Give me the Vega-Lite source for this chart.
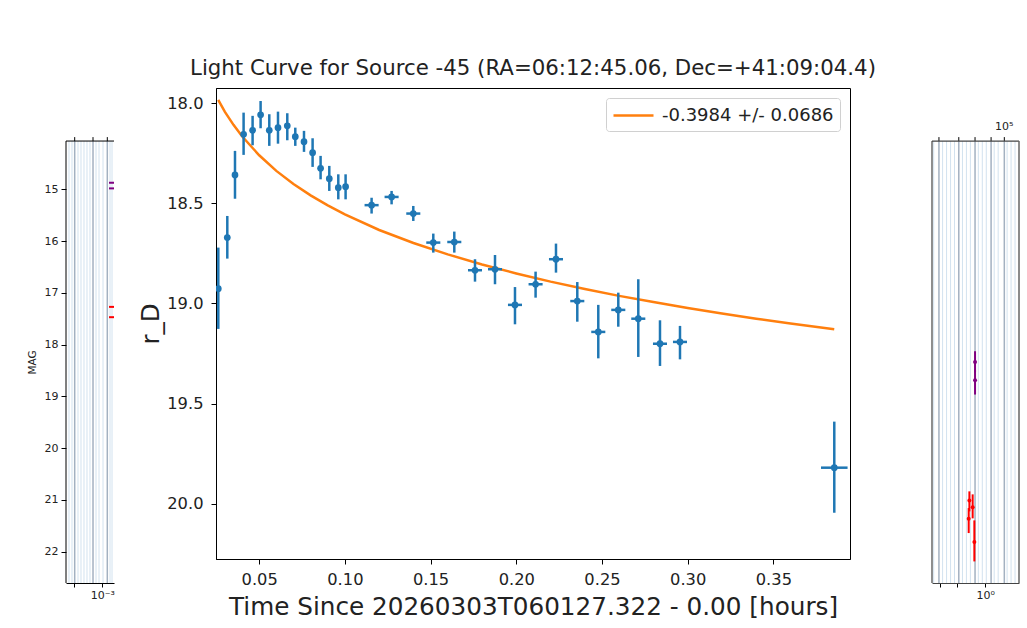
{
  "$schema": "https://vega.github.io/schema/vega-lite/v6.json",
  "background": "white",
  "padding": {"left": 27, "top": 57, "right": 0, "bottom": 0},
  "config": {
    "font": "DejaVu Sans",
    "view": {"stroke": null},
    "axis": {"grid": false, "domainColor": "#000", "tickColor": "#000", "labelColor": "#222", "titleColor": "#222", "titleFontWeight": "normal", "labelFont": "DejaVu Sans", "titleFont": "DejaVu Sans", "labelOverlap": false, "labelFlush": false},
    "title": {"font": "DejaVu Sans", "fontWeight": "normal", "color": "#222"},
    "legend": {"labelFont": "DejaVu Sans"}
  },
  "resolve": {"scale": {"stroke": "independent"}, "legend": {"stroke": "independent"}},
  "datasets": {
    "obs": [
      {"t": 0.02614, "tlo": 0.02464, "thi": 0.02764, "mag": 18.926, "mlo": 18.721, "mhi": 19.127},
      {"t": 0.03139, "tlo": 0.02989, "thi": 0.03289, "mag": 18.671, "mlo": 18.563, "mhi": 18.776},
      {"t": 0.03588, "tlo": 0.03438, "thi": 0.03738, "mag": 18.358, "mlo": 18.238, "mhi": 18.477},
      {"t": 0.04090, "tlo": 0.03940, "thi": 0.04240, "mag": 18.155, "mlo": 18.047, "mhi": 18.258},
      {"t": 0.04615, "tlo": 0.04465, "thi": 0.04765, "mag": 18.135, "mlo": 18.063, "mhi": 18.210},
      {"t": 0.05082, "tlo": 0.04932, "thi": 0.05232, "mag": 18.058, "mlo": 17.989, "mhi": 18.125},
      {"t": 0.05589, "tlo": 0.05439, "thi": 0.05739, "mag": 18.135, "mlo": 18.055, "mhi": 18.213},
      {"t": 0.06097, "tlo": 0.05947, "thi": 0.06247, "mag": 18.122, "mlo": 18.042, "mhi": 18.202},
      {"t": 0.06639, "tlo": 0.06489, "thi": 0.06789, "mag": 18.113, "mlo": 18.050, "mhi": 18.185},
      {"t": 0.07106, "tlo": 0.06956, "thi": 0.07256, "mag": 18.167, "mlo": 18.122, "mhi": 18.213},
      {"t": 0.07614, "tlo": 0.07464, "thi": 0.07764, "mag": 18.192, "mlo": 18.138, "mhi": 18.243},
      {"t": 0.08116, "tlo": 0.07966, "thi": 0.08266, "mag": 18.247, "mlo": 18.175, "mhi": 18.318},
      {"t": 0.08582, "tlo": 0.08432, "thi": 0.08732, "mag": 18.325, "mlo": 18.263, "mhi": 18.380},
      {"t": 0.09090, "tlo": 0.08940, "thi": 0.09240, "mag": 18.377, "mlo": 18.313, "mhi": 18.438},
      {"t": 0.09615, "tlo": 0.09465, "thi": 0.09765, "mag": 18.422, "mlo": 18.355, "mhi": 18.480},
      {"t": 0.10041, "tlo": 0.09891, "thi": 0.10191, "mag": 18.417, "mlo": 18.355, "mhi": 18.480},
      {"t": 0.11558, "tlo": 0.11148, "thi": 0.11968, "mag": 18.509, "mlo": 18.472, "mhi": 18.551},
      {"t": 0.12725, "tlo": 0.12315, "thi": 0.13135, "mag": 18.468, "mlo": 18.438, "mhi": 18.505},
      {"t": 0.13991, "tlo": 0.13581, "thi": 0.14401, "mag": 18.551, "mlo": 18.513, "mhi": 18.588},
      {"t": 0.15158, "tlo": 0.14748, "thi": 0.15568, "mag": 18.696, "mlo": 18.651, "mhi": 18.746},
      {"t": 0.16383, "tlo": 0.15973, "thi": 0.16793, "mag": 18.693, "mlo": 18.641, "mhi": 18.746},
      {"t": 0.17591, "tlo": 0.17181, "thi": 0.18001, "mag": 18.834, "mlo": 18.779, "mhi": 18.891},
      {"t": 0.18758, "tlo": 0.18348, "thi": 0.19168, "mag": 18.829, "mlo": 18.758, "mhi": 18.904},
      {"t": 0.19924, "tlo": 0.19514, "thi": 0.20334, "mag": 19.007, "mlo": 18.918, "mhi": 19.104},
      {"t": 0.21126, "tlo": 0.20716, "thi": 0.21536, "mag": 18.904, "mlo": 18.841, "mhi": 18.971},
      {"t": 0.22316, "tlo": 0.21906, "thi": 0.22726, "mag": 18.779, "mlo": 18.701, "mhi": 18.846},
      {"t": 0.23559, "tlo": 0.23149, "thi": 0.23969, "mag": 18.988, "mlo": 18.893, "mhi": 19.091},
      {"t": 0.24784, "tlo": 0.24374, "thi": 0.25194, "mag": 19.142, "mlo": 19.007, "mhi": 19.274},
      {"t": 0.25951, "tlo": 0.25541, "thi": 0.26361, "mag": 19.032, "mlo": 18.946, "mhi": 19.116},
      {"t": 0.27118, "tlo": 0.26708, "thi": 0.27528, "mag": 19.076, "mlo": 18.879, "mhi": 19.267},
      {"t": 0.28384, "tlo": 0.27974, "thi": 0.28794, "mag": 19.201, "mlo": 19.084, "mhi": 19.312},
      {"t": 0.29551, "tlo": 0.29141, "thi": 0.29961, "mag": 19.192, "mlo": 19.112, "mhi": 19.279},
      {"t": 0.38553, "tlo": 0.37778, "thi": 0.39328, "mag": 19.820, "mlo": 19.590, "mhi": 20.045}
    ],
    "fit": [
      {"t": 0.0261, "mag": 17.983},
      {"t": 0.03, "mag": 18.043},
      {"t": 0.035, "mag": 18.108},
      {"t": 0.04, "mag": 18.165},
      {"t": 0.05, "mag": 18.260},
      {"t": 0.06, "mag": 18.338},
      {"t": 0.07, "mag": 18.403},
      {"t": 0.08, "mag": 18.460},
      {"t": 0.09, "mag": 18.510},
      {"t": 0.10, "mag": 18.555},
      {"t": 0.12, "mag": 18.633},
      {"t": 0.14, "mag": 18.698},
      {"t": 0.16, "mag": 18.755},
      {"t": 0.18, "mag": 18.805},
      {"t": 0.20, "mag": 18.850},
      {"t": 0.22, "mag": 18.891},
      {"t": 0.24, "mag": 18.928},
      {"t": 0.26, "mag": 18.962},
      {"t": 0.28, "mag": 18.993},
      {"t": 0.30, "mag": 19.023},
      {"t": 0.32, "mag": 19.050},
      {"t": 0.34, "mag": 19.076},
      {"t": 0.36, "mag": 19.100},
      {"t": 0.3855, "mag": 19.129}
    ],
    "lgridMinor": [
      {"lx": -4.233}, {"lx": -4.122}, {"lx": -3.9}, {"lx": -3.789}, {"lx": -3.678}, {"lx": -3.567}, {"lx": -3.456}, {"lx": -3.233}, {"lx": -3.122}, {"lx": -2.974}, {"lx": -2.715}, {"lx": -2.641}
    ],
    "lgridMajor": [
      {"lx": -4.022}, {"lx": -3.344}, {"lx": -2.815}
    ],
    "lmarks": [
      {"lx": -2.752, "lx2": -2.5, "mag": 14.872, "band": "g"},
      {"lx": -2.752, "lx2": -2.5, "mag": 14.981, "band": "g"},
      {"lx": -2.752, "lx2": -2.5, "mag": 17.271, "band": "r"},
      {"lx": -2.752, "lx2": -2.5, "mag": 17.470, "band": "r"}
    ],
    "rgridMinor": [
      {"lx": -1.926}, {"lx": -1.593}, {"lx": -1.445}, {"lx": -1.296}, {"lx": -1.148}, {"lx": -0.852}, {"lx": -0.704}, {"lx": -0.556}, {"lx": -0.259}, {"lx": -0.111}, {"lx": 0.037}, {"lx": 0.333}, {"lx": 0.481}, {"lx": 0.815}, {"lx": 0.963}, {"lx": 1.111}
    ],
    "rgridMajor": [
      {"lx": -1.730}, {"lx": -0.989}, {"lx": -0.382}, {"lx": 0.217}, {"lx": 0.711}
    ],
    "rpts": [
      {"lx": -0.382, "mag": 18.335, "mlo": 18.128, "mhi": 18.54, "band": "g"},
      {"lx": -0.382, "mag": 18.689, "mlo": 18.48, "mhi": 18.965, "band": "g"},
      {"lx": -0.593, "mag": 21.015, "mlo": 20.836, "mhi": 21.223, "band": "r"},
      {"lx": -0.471, "mag": 21.145, "mlo": 20.894, "mhi": 21.358, "band": "r"},
      {"lx": -0.619, "mag": 21.364, "mlo": 21.159, "mhi": 21.642, "band": "r"},
      {"lx": -0.408, "mag": 21.816, "mlo": 21.397, "mhi": 22.190, "band": "r"}
    ],
    "rtop": [
      {"lx": 0.711, "label": "10⁵"}
    ]
  },
  "spacing": 22,
  "hconcat": [
    {
      "width": 48,
      "height": 495,
      "layer": [
        {
          "data": {"name": "lgridMinor"},
          "mark": {"type": "rule", "color": "#d2e2ef", "strokeWidth": 1},
          "encoding": {
            "x": {"field": "lx", "type": "quantitative", "scale": {"domain": [-4.344, -2.567], "nice": false, "zero": false},
              "axis": {"orient": "bottom", "values": [-4.048, -3.519, -3], "labelExpr": "datum.value == -3 ? '10⁻³' : ''", "title": null, "labelFontSize": 11, "tickSize": 4, "labelPadding": 2}},
            "y": {"datum": 14.066, "type": "quantitative", "scale": {"domain": [13.041, 22.607], "reverse": true, "nice": false, "zero": false},
              "axis": {"title": "MAG", "values": [15, 16, 17, 18, 19, 20, 21, 22], "domain": false, "labelFontSize": 11, "titleFontSize": 10.5, "tickSize": 5, "labelPadding": 3, "titlePadding": 7, "titleY": 274}},
            "y2": {"datum": 22.607}
          }
        },
        {
          "data": {"name": "lgridMajor"},
          "mark": {"type": "rule", "color": "#a3b1c1", "strokeWidth": 1.5},
          "encoding": {
            "x": {"field": "lx", "type": "quantitative"},
            "y": {"datum": 14.066, "type": "quantitative"},
            "y2": {"datum": 22.607}
          }
        },
        {
          "data": {"name": "lgridMajor"},
          "mark": {"type": "rule", "color": "#000", "strokeWidth": 1},
          "encoding": {
            "x": {"field": "lx", "type": "quantitative"},
            "y": {"datum": 14.066, "type": "quantitative"},
            "y2": {"datum": 13.99}
          }
        },
        {
          "data": {"name": "lmarks"},
          "mark": {"type": "rule", "strokeWidth": 2, "clip": true},
          "encoding": {
            "x": {"field": "lx", "type": "quantitative"},
            "x2": {"field": "lx2"},
            "y": {"field": "mag", "type": "quantitative"},
            "color": {"field": "band", "type": "nominal", "scale": {"domain": ["g", "r"], "range": ["#800080", "#ff0000"]}, "legend": null}
          }
        },
        {
          "data": {"name": "rtop"},
          "mark": {"type": "rule", "color": "#000", "strokeWidth": 1},
          "encoding": {
            "y": {"datum": 14.066, "type": "quantitative"}
          }
        },
        {
          "data": {"name": "rtop"},
          "mark": {"type": "rule", "color": "#000", "strokeWidth": 1},
          "encoding": {
            "x": {"datum": -4.344, "type": "quantitative"},
            "y": {"datum": 14.066, "type": "quantitative"},
            "y2": {"datum": 22.607}
          }
        }
      ]
    },
    {
      "width": 634,
      "height": 471,
      "title": {"text": "Light Curve for Source -45 (RA=06:12:45.06, Dec=+41:09:04.4)", "fontSize": 21.3, "offset": 8.5, "anchor": "middle"},
      "view": {"stroke": "#000", "strokeWidth": 1},
      "layer": [
        {
          "data": {"name": "fit"},
          "mark": {"type": "line", "strokeWidth": 2.5, "clip": true},
          "encoding": {
            "x": {"field": "t", "type": "quantitative", "scale": {"domain": [0.0248, 0.3947], "nice": false, "zero": false},
              "axis": {"title": "Time Since 20260303T060127.322 - 0.00 [hours]", "values": [0.05, 0.1, 0.15, 0.2, 0.25, 0.3, 0.35], "format": ".2f", "labelFontSize": 16.3, "titleFontSize": 24.7, "tickSize": 5, "labelPadding": 7, "titlePadding": 7}},
            "y": {"field": "mag", "type": "quantitative", "scale": {"domain": [17.924, 20.276], "reverse": true, "nice": false, "zero": false},
              "axis": {"title": "r_D", "values": [18, 18.5, 19, 19.5, 20], "format": ".1f", "labelFontSize": 16.3, "titleFontSize": 24.5, "tickSize": 5, "labelPadding": 8, "titlePadding": 3.5}},
            "stroke": {"datum": "-0.3984 +/- 0.0686", "type": "nominal", "scale": {"range": ["#ff7f0e"]},
              "legend": {"title": null, "orient": "top-right", "offset": 10, "symbolType": "M-1,0H3", "symbolSize": 400, "symbolStrokeWidth": 2.5, "labelFontSize": 18, "labelLimit": 400, "labelColor": "#222", "padding": 6, "strokeColor": "#d0d0d0", "fillColor": "white", "cornerRadius": 3, "labelOffset": 27}}
          }
        },
        {
          "data": {"name": "obs"},
          "mark": {"type": "rule", "strokeWidth": 2.5, "color": "#1f77b4", "clip": true},
          "encoding": {
            "x": {"field": "t", "type": "quantitative"},
            "y": {"field": "mlo", "type": "quantitative"},
            "y2": {"field": "mhi"}
          }
        },
        {
          "data": {"name": "obs"},
          "mark": {"type": "rule", "strokeWidth": 2.5, "color": "#1f77b4", "clip": true},
          "encoding": {
            "x": {"field": "tlo", "type": "quantitative"},
            "x2": {"field": "thi"},
            "y": {"field": "mag", "type": "quantitative"}
          }
        },
        {
          "data": {"name": "obs"},
          "mark": {"type": "circle", "size": 45, "opacity": 1, "color": "#1f77b4", "clip": true},
          "encoding": {
            "x": {"field": "t", "type": "quantitative"},
            "y": {"field": "mag", "type": "quantitative"}
          }
        }
      ]
    },
    {
      "width": 87,
      "height": 495,
      "layer": [
        {
          "data": {"name": "rgridMinor"},
          "mark": {"type": "rule", "color": "#d2e2ef", "strokeWidth": 1},
          "encoding": {
            "x": {"field": "lx", "type": "quantitative", "scale": {"domain": [-1.989, 1.259], "nice": false, "zero": false},
              "axis": {"orient": "bottom", "values": [-1.704, -1.04, 0], "labelExpr": "datum.value == 0 ? '10⁰' : ''", "title": null, "labelFontSize": 11, "tickSize": 4, "labelPadding": 2, "domainColor": "#444"}},
            "y": {"datum": 14.066, "type": "quantitative", "scale": {"domain": [13.041, 22.607], "reverse": true, "nice": false, "zero": false},
              "axis": {"values": [15, 16, 17, 18, 19, 20, 21, 22], "labelColor": "white", "ticks": false, "domain": false, "title": null, "labelFontSize": 11, "labelPadding": 19}},
            "y2": {"datum": 22.607}
          }
        },
        {
          "data": {"name": "rgridMajor"},
          "mark": {"type": "rule", "color": "#a3b1c1", "strokeWidth": 1.5},
          "encoding": {
            "x": {"field": "lx", "type": "quantitative"},
            "y": {"datum": 14.066, "type": "quantitative"},
            "y2": {"datum": 22.607}
          }
        },
        {
          "data": {"name": "rgridMajor"},
          "mark": {"type": "rule", "color": "#000", "strokeWidth": 1},
          "encoding": {
            "x": {"field": "lx", "type": "quantitative"},
            "y": {"datum": 14.066, "type": "quantitative"},
            "y2": {"datum": 13.99}
          }
        },
        {
          "data": {"name": "rpts"},
          "mark": {"type": "rule", "strokeWidth": 2},
          "encoding": {
            "x": {"field": "lx", "type": "quantitative"},
            "y": {"field": "mlo", "type": "quantitative"},
            "y2": {"field": "mhi"},
            "color": {"field": "band", "type": "nominal", "scale": {"domain": ["g", "r"], "range": ["#800080", "#ff0000"]}, "legend": null}
          }
        },
        {
          "data": {"name": "rpts"},
          "mark": {"type": "circle", "size": 16, "opacity": 1},
          "encoding": {
            "x": {"field": "lx", "type": "quantitative"},
            "y": {"field": "mag", "type": "quantitative"},
            "color": {"field": "band", "type": "nominal", "scale": {"domain": ["g", "r"], "range": ["#800080", "#ff0000"]}, "legend": null}
          }
        },
        {
          "data": {"name": "rtop"},
          "mark": {"type": "text", "fontSize": 11, "color": "#222", "baseline": "alphabetic", "dy": -11},
          "encoding": {
            "x": {"field": "lx", "type": "quantitative"},
            "y": {"datum": 14.066, "type": "quantitative"},
            "text": {"field": "label"}
          }
        },
        {
          "data": {"name": "rtop"},
          "mark": {"type": "rule", "color": "#444", "strokeWidth": 1.2},
          "encoding": {
            "y": {"datum": 14.066, "type": "quantitative"}
          }
        },
        {
          "data": {"name": "rtop"},
          "mark": {"type": "rule", "color": "#444", "strokeWidth": 1.2},
          "encoding": {
            "x": {"datum": -1.989, "type": "quantitative"},
            "y": {"datum": 14.066, "type": "quantitative"},
            "y2": {"datum": 22.607}
          }
        },
        {
          "data": {"name": "rtop"},
          "mark": {"type": "rule", "color": "#666", "strokeWidth": 1.5},
          "encoding": {
            "x": {"datum": 1.259, "type": "quantitative"},
            "y": {"datum": 14.066, "type": "quantitative"},
            "y2": {"datum": 22.607}
          }
        }
      ]
    }
  ]
}
